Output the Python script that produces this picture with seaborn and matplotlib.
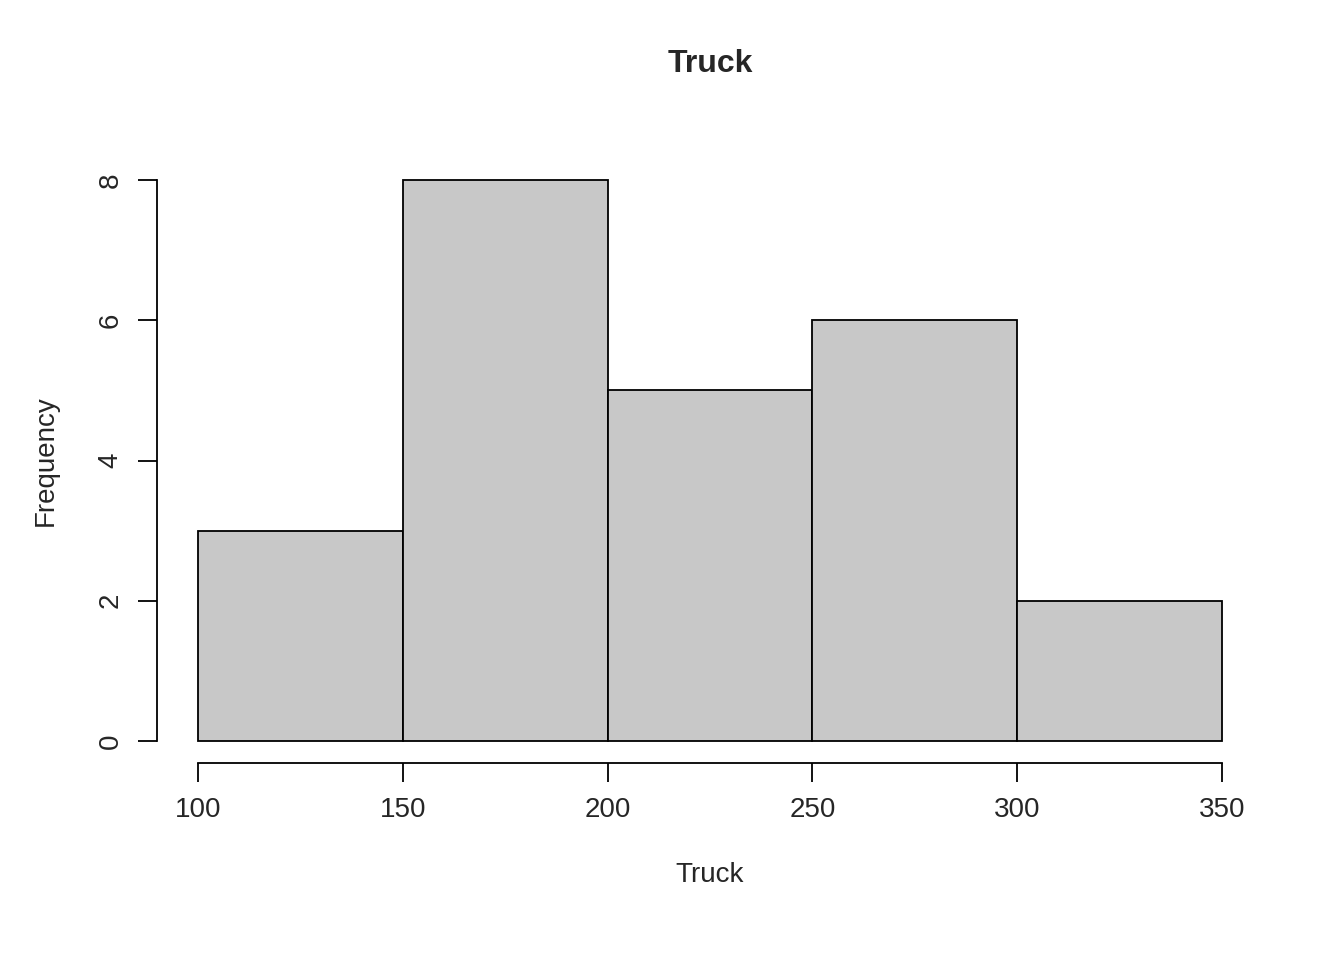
import matplotlib
matplotlib.use("Agg")
import matplotlib.pyplot as plt
import seaborn as sns

bin_edges = [100, 150, 200, 250, 300, 350]
counts = [3, 8, 5, 6, 2]
mids = [(a + b) / 2 for a, b in zip(bin_edges[:-1], bin_edges[1:])]

sns.set_style("white")
plt.rcParams['font.family'] = ['Liberation Sans', 'DejaVu Sans']

fig = plt.figure(figsize=(13.44, 9.6), dpi=100)
ax = fig.add_axes([0.1168, 0.2048, 0.8229, 0.631])
sns.histplot(x=mids, weights=counts, bins=bin_edges, color="#C8C8C8",
             edgecolor="black", linewidth=1.3, alpha=1, ax=ax)
ax.set_xlim(90, 360)
ax.set_ylim(-0.32, 8.32)
for s in ["top", "right"]:
    ax.spines[s].set_visible(False)
ax.spines["left"].set_bounds(0, 8)
ax.spines["bottom"].set_bounds(100, 350)
for s in ["left", "bottom"]:
    ax.spines[s].set_color("black")
    ax.spines[s].set_linewidth(1.3)
ax.set_xticks(bin_edges)
ax.set_yticks([0, 2, 4, 6, 8])
ax.tick_params(axis="both", direction="out", length=14, width=1.3, color="black",
               labelsize=20, pad=10, left=True, bottom=True)
plt.setp(ax.get_yticklabels(), rotation=90, va="center")
ax.set_xlabel("Truck", fontsize=20, labelpad=28)
ax.set_ylabel("Frequency", fontsize=20, labelpad=28)
ax.set_title("Truck", fontsize=23, fontweight="bold", pad=62)
fig.savefig("out.png", dpi=100)
